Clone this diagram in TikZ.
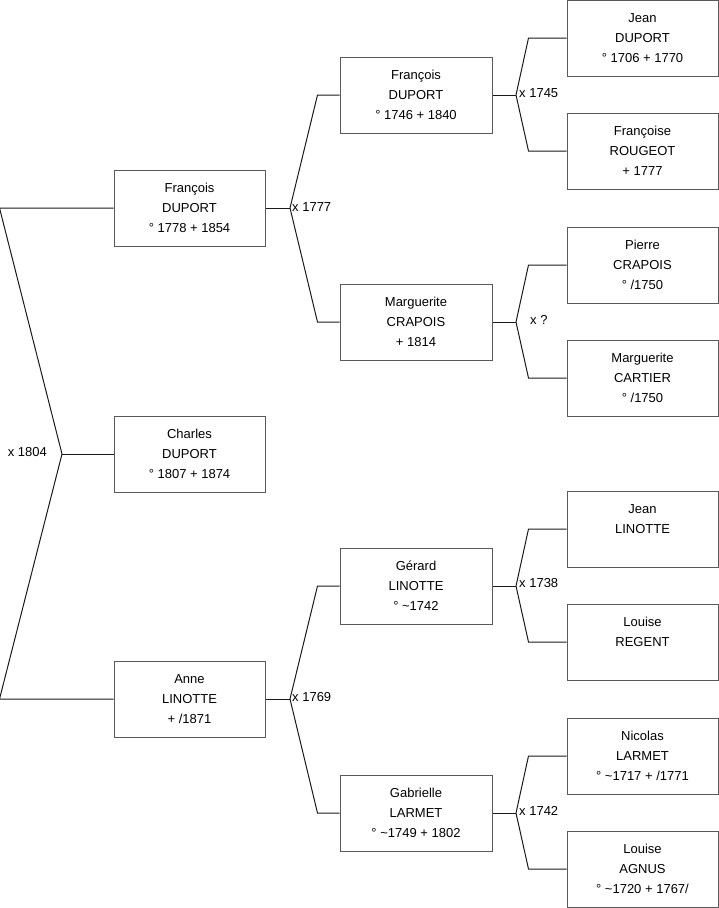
\documentclass[tikz,border=0pt]{standalone}
\usepackage{fontspec}
\setmainfont{Liberation Sans}
\usepackage{tikz}
\usetikzlibrary{positioning}
\definecolor{boxColor}{HTML}{5A5A5A}
\definecolor{lineColor}{HTML}{1A1A1A}

\begin{document}
\begin{tikzpicture}[
    x=1pt, y=-1pt,
    person/.style={rectangle, draw=boxColor, line width=1pt, minimum width=151pt, minimum height=76pt, inner sep=0pt, font=\fontsize{13}{20}\selectfont, align=center},
    link/.style={draw=lineColor, line width=1pt},
    union/.style={font=\fontsize{13}{14}\selectfont, inner sep=0pt}
]
\useasboundingbox (0,0) rectangle (719,908);

% generation 1 and 2
\node[person] (Charles) at (189.5,454) {Charles\\DUPORT\\° 1807 + 1874};
\node[person] (FrancoisA) at (189.5,208) {François\\DUPORT\\° 1778 + 1854};
\node[person] (Anne) at (189.5,699) {Anne\\LINOTTE\\+ /1871};

% generation 3
\node[person, minimum width=152pt] (FrancoisB) at (416,95) {François\\DUPORT\\° 1746 + 1840};
\node[person, minimum width=152pt] (MargueriteA) at (416,322) {Marguerite\\CRAPOIS\\+ 1814};
\node[person, minimum width=152pt] (Gerard) at (416,586) {Gérard\\LINOTTE\\° \textasciitilde1742};
\node[person, minimum width=152pt] (Gabrielle) at (416,813) {Gabrielle\\LARMET\\° \textasciitilde1749 + 1802};

% generation 4
\node[person] (JeanA) at (642.5,38) {Jean\\DUPORT\\° 1706 + 1770};
\node[person] (Francoise) at (642.5,151) {Françoise\\ROUGEOT\\+ 1777};
\node[person] (Pierre) at (642.5,265) {Pierre\\CRAPOIS\\° /1750};
\node[person] (MargueriteB) at (642.5,378) {Marguerite\\CARTIER\\° /1750};
\node[person] (JeanB) at (642.5,529) {Jean\\LINOTTE\\~};
\node[person] (LouiseA) at (642.5,642) {Louise\\REGENT\\~};
\node[person] (Nicolas) at (642.5,756) {Nicolas\\LARMET\\° \textasciitilde1717 + /1771};
\node[person] (LouiseB) at (642.5,869) {Louise\\AGNUS\\° \textasciitilde1720 + 1767/};

% marriage points
\coordinate (m1804) at (62,454);
\coordinate (m1777) at (290,208);
\coordinate (m1769) at (290,699);
\coordinate (m1745) at (516,95);
\coordinate (mUnknown) at (516,322);
\coordinate (m1738) at (516,586);
\coordinate (m1742) at (516,813);

\node[union, anchor=east] (l1804) at (47,452) {x 1804};
\node[union, anchor=west] (l1777) at (292,207) {x 1777};
\node[union, anchor=west] (l1769) at (292,697) {x 1769};
\node[union, anchor=west] (l1745) at (519,93) {x 1745};
\node[union, anchor=west] (lUnknown) at (530,320) {x ?};
\node[union, anchor=west] (l1738) at (519,583) {x 1738};
\node[union, anchor=west] (l1742) at (519,811) {x 1742};

% child to marriage
\draw[link] (Charles.west) -- (m1804);
\draw[link] (FrancoisA.east) -- (m1777);
\draw[link] (Anne.east) -- (m1769);
\draw[link] (FrancoisB.east) -- (m1745);
\draw[link] (MargueriteA.east) -- (mUnknown);
\draw[link] (Gerard.east) -- (m1738);
\draw[link] (Gabrielle.east) -- (m1742);

% parents to marriage
\draw[link] (FrancoisA.west) -- ++(-114,0) -- (m1804);
\draw[link] (Anne.west) -- ++(-114,0) -- (m1804);
\draw[link] (FrancoisB.west) -- ++(-22,0) -- (m1777);
\draw[link] (MargueriteA.west) -- ++(-22,0) -- (m1777);
\draw[link] (Gerard.west) -- ++(-22,0) -- (m1769);
\draw[link] (Gabrielle.west) -- ++(-22,0) -- (m1769);
\draw[link] (JeanA.west) -- ++(-38,0) -- (m1745);
\draw[link] (Francoise.west) -- ++(-38,0) -- (m1745);
\draw[link] (Pierre.west) -- ++(-38,0) -- (mUnknown);
\draw[link] (MargueriteB.west) -- ++(-38,0) -- (mUnknown);
\draw[link] (JeanB.west) -- ++(-38,0) -- (m1738);
\draw[link] (LouiseA.west) -- ++(-38,0) -- (m1738);
\draw[link] (Nicolas.west) -- ++(-38,0) -- (m1742);
\draw[link] (LouiseB.west) -- ++(-38,0) -- (m1742);

\end{tikzpicture}
\end{document}
